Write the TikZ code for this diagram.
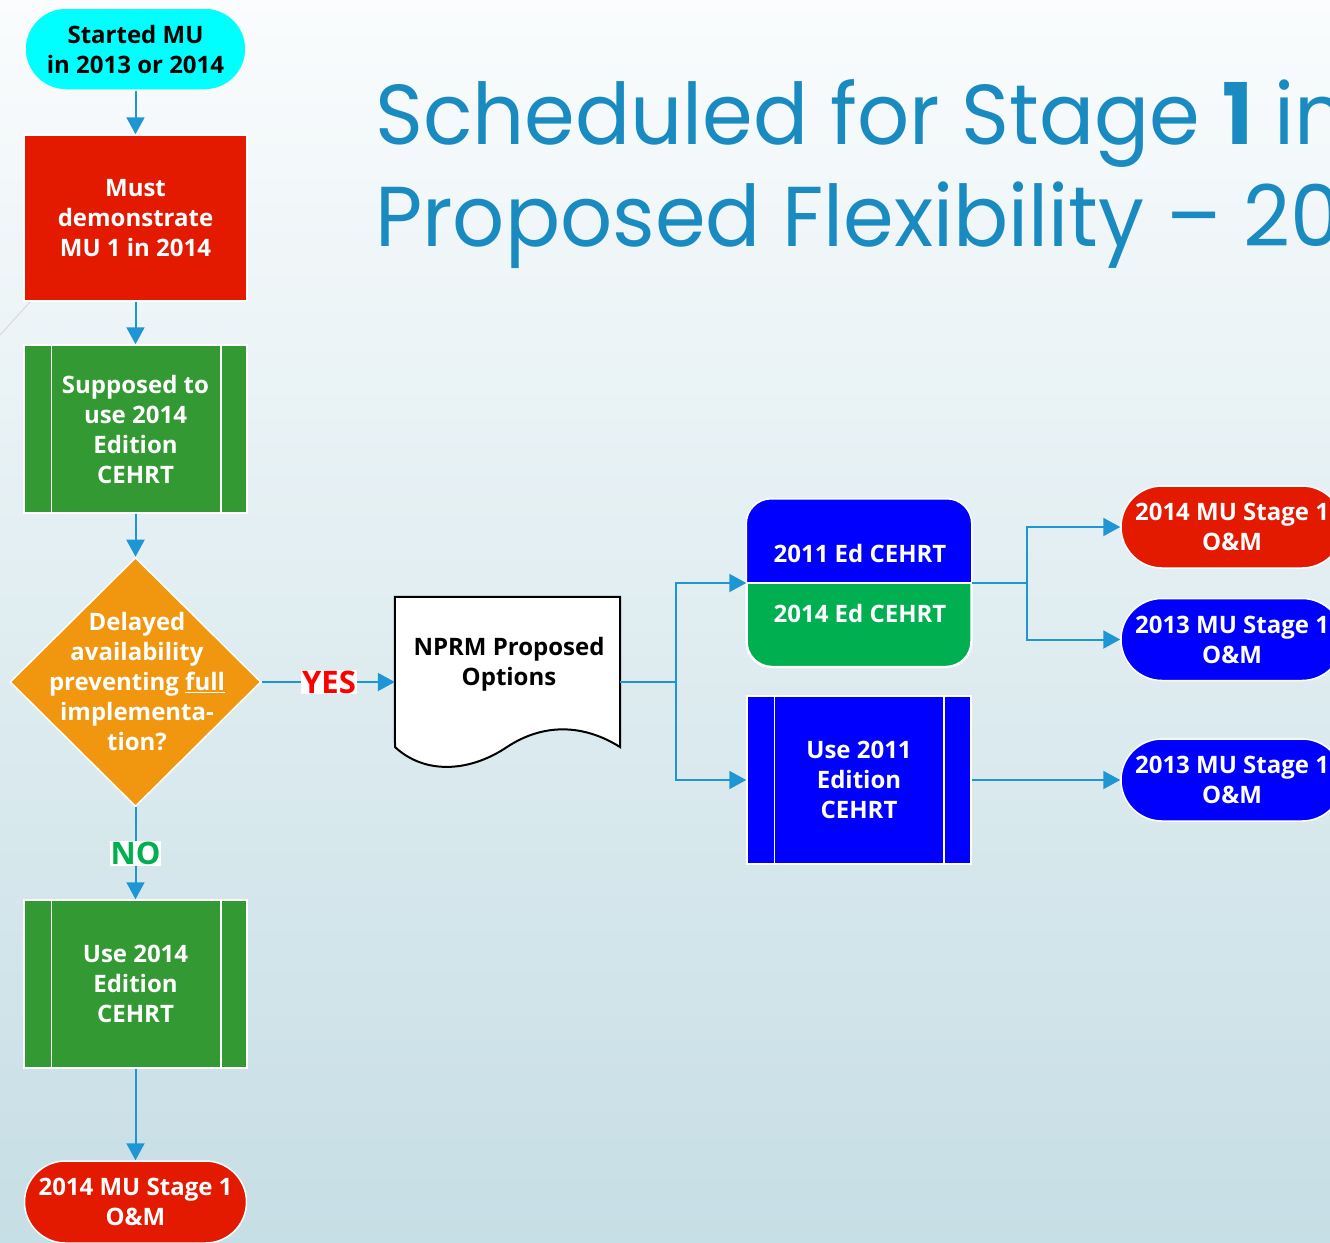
\documentclass[tikz,border=0pt]{standalone}
\usepackage{fontspec}
\setmainfont{Open Sans}
\newfontfamily\titlefont[FakeStretch=0.96]{Poppins}
\usetikzlibrary{shapes.geometric,arrows.meta}
\definecolor{cyanc}{RGB}{0,255,255}
\definecolor{redc}{RGB}{227,25,0}
\definecolor{greenc}{RGB}{51,153,51}
\definecolor{orangec}{RGB}{240,150,15}
\definecolor{bluec}{RGB}{0,0,255}
\definecolor{greenb}{RGB}{0,176,80}
\definecolor{arrowc}{RGB}{31,150,212}
\definecolor{titlec}{RGB}{26,139,192}
\definecolor{bgtop}{RGB}{250,252,253}
\definecolor{bgbot}{RGB}{198,222,229}
\definecolor{yesred}{RGB}{255,0,0}
\begin{document}
\begin{tikzpicture}[x=1pt,y=-1pt,
  lbl/.style={font=\bfseries\fontsize{24}{30}\selectfont, align=center, text=white, inner sep=0pt},
  boxsh/.style={draw=white, line width=1.5pt, inner sep=0pt, minimum width=223pt, minimum height=166pt, lbl},
  stadium/.style={draw=white, line width=1.5pt, rounded corners=41pt, inner sep=0pt, minimum width=222pt, minimum height=82pt, lbl},
  conn/.style={draw=arrowc, line width=2pt},
  arr/.style={conn, -{Triangle[length=17pt,width=18pt]}},
  tag/.style={fill=white, inner sep=1pt, font=\bfseries\fontsize{31}{31}\selectfont},
  titletxt/.style={anchor=base west, inner sep=0pt, text=titlec, font=\titlefont\fontsize{85}{100}\selectfont}
]
\useasboundingbox (0,0) rectangle (1330,1242);
\begin{scope}
\clip (0,0) rectangle (1330,1242);
\shade[top color=bgtop, bottom color=bgbot] (0,0) rectangle (1330,1242);
\draw[black!15, line width=1pt] (0,335) -- (30,302);

% title
\node[titletxt] (title1) at (375,144) {Scheduled for Stage \textbf{1} in};
\node[titletxt] (title2) at (375,246) {Proposed Flexibility – 2014};

% left column
\node[stadium, fill=cyanc, text=black, minimum width=221pt] (start) at (135.5,49) {Started MU\\in 2013 or 2014};
\node[boxsh, fill=redc] (must) at (135.5,218) {Must\\demonstrate\\MU 1 in 2014};
\node[boxsh, fill=greenc, minimum height=168pt] (supp) at (135.5,429) {Supposed to\\use 2014\\Edition\\CEHRT};
\draw[white, line width=1.5pt] ([xshift=28pt]supp.north west) -- ([xshift=28pt]supp.south west);
\draw[white, line width=1.5pt] ([xshift=-27pt]supp.north east) -- ([xshift=-27pt]supp.south east);

\node[diamond, draw=white, line width=1.5pt, fill=orangec, minimum width=251pt, minimum height=249pt, inner sep=0pt] (dec) at (135.5,682) {};
\node[lbl] (dectext) at (137,682) {Delayed\\availability\\preventing \underline{full}\\implementa-\\tion?};

\node[boxsh, fill=greenc, minimum height=168pt] (use14) at (135.5,984) {Use 2014\\Edition\\CEHRT};
\draw[white, line width=1.5pt] ([xshift=28pt]use14.north west) -- ([xshift=28pt]use14.south west);
\draw[white, line width=1.5pt] ([xshift=-27pt]use14.north east) -- ([xshift=-27pt]use14.south east);

\node[stadium, fill=redc] (endA) at (135.5,1202) {2014 MU Stage 1\\O\&M};

% NPRM document
\node[minimum width=225pt, minimum height=170pt, inner sep=0pt] (nprm) at (507.5,682) {};
\draw[black, line width=2pt, fill=white] (nprm.north west) -- (nprm.north east) -- (620,747)
  .. controls (585,725) and (545,722) .. (507,747)
  .. controls (470,772) and (425,775) .. (395,747) -- cycle;
\node[lbl, text=black] (nprmtxt) at (509,664) {NPRM Proposed\\Options};

% split box
\node[draw=white, line width=1.5pt, fill=greenb, rounded corners=25pt, minimum width=224pt, minimum height=167pt, inner sep=0pt] (split) at (859,583) {};
\begin{scope}
\clip (740,490) rectangle (980,583);
\fill[bluec, rounded corners=25pt] (split.north west) rectangle (split.south east);
\end{scope}
\draw[white, line width=1.5pt, rounded corners=25pt] (split.north west) rectangle (split.south east);
\draw[white, line width=2pt] (split.west) -- (split.east);
\node[lbl] (ed11) at (860,553) {2011 Ed CEHRT};
\node[lbl] (ed14) at (860,613) {2014 Ed CEHRT};

\node[boxsh, fill=bluec, minimum width=224pt, minimum height=168pt] (use11) at (859,780) {Use 2011\\Edition\\CEHRT};
\draw[white, line width=1.5pt] ([xshift=28pt]use11.north west) -- ([xshift=28pt]use11.south west);
\draw[white, line width=1.5pt] ([xshift=-28pt]use11.north east) -- ([xshift=-28pt]use11.south east);

% right stadiums
\node[stadium, fill=redc] (r1) at (1232,527) {2014 MU Stage 1\\O\&M};
\node[stadium, fill=bluec] (r2) at (1232,639.5) {2013 MU Stage 1\\O\&M};
\node[stadium, fill=bluec] (r3) at (1232,780) {2013 MU Stage 1\\O\&M};

% connectors
\draw[arr] (start) -- (must);
\draw[arr] (must) -- (supp);
\draw[arr] (supp) -- (dec);
\draw[arr] (dec.south) -- node[tag, text=greenb] (no) {NO} (use14.north);
\draw[arr] (use14) -- (endA);
\draw[arr] (dec.east) -- node[tag, text=yesred, pos=0.505] (yes) {YES} (nprm.west);

\coordinate (j1) at (676,682);
\draw[arr] (nprm.east) -- (j1) |- (split.west);
\draw[arr] (j1) |- (use11.west);
\coordinate (j2) at (1027,583);
\draw[arr] (split.east) -- (j2) |- (r1.west);
\draw[arr] (j2) |- (r2.west);
\draw[arr] (use11.east) -- (r3.west);
\end{scope}
\end{tikzpicture}
\end{document}
